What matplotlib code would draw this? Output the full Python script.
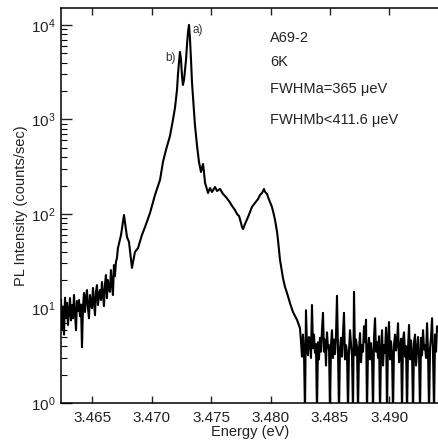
import numpy as np
import matplotlib
matplotlib.use('Agg')
import matplotlib.pyplot as plt
from matplotlib.ticker import LogLocator, NullFormatter, FormatStrFormatter

# ---- data ----
# low-energy noisy tail: evenly spaced samples between these energies
left_energy_range = (3.46237, 3.46716)
left_intensity = [12.3, 6.0, 10.5, 5.3, 13.0, 8.0, 11.5, 6.7, 9.5, 12.9, 7.5, 10.9,
                  7.9, 13.9, 9.0, 5.9, 12.0, 9.4, 12.3, 8.3, 11.0, 3.9, 10.5, 14.6,
                  9.2, 13.0, 15.7, 10.0, 7.9, 13.9, 11.0, 10.1, 16.5, 12.0, 8.5, 15.0,
                  17.7, 10.9, 14.0, 15.7, 12.3, 19.1, 14.0, 10.6, 18.0, 22.6, 12.9, 20.0,
                  16.0, 15.0, 25.5, 18.0, 13.9, 28.8, 22.0, 31.0, 34.2, 43.6]

# main emission region
peak_energy = [3.46742, 3.46767, 3.46792, 3.46809, 3.46834, 3.46859, 3.46885, 3.46918,
               3.46944, 3.46986, 3.47028, 3.47070, 3.47095, 3.47120, 3.47154, 3.47179,
               3.47196, 3.47213, 3.47221, 3.47230, 3.47238, 3.47247, 3.47255, 3.47263,
               3.47272, 3.47289, 3.47297, 3.47306, 3.47314, 3.47322, 3.47331, 3.47339,
               3.47348, 3.47356, 3.47364, 3.47381, 3.47398, 3.47415, 3.47423, 3.47432,
               3.47440, 3.47449, 3.47457, 3.47474, 3.47491, 3.47508, 3.47533, 3.47550,
               3.47575, 3.47600, 3.47625, 3.47651, 3.47676, 3.47701, 3.47718, 3.47735,
               3.47752, 3.47760, 3.47769, 3.47785, 3.47811, 3.47827, 3.47844, 3.47870,
               3.47895, 3.47912, 3.47929, 3.47945, 3.47954, 3.47971, 3.47979, 3.47996,
               3.48012, 3.48029, 3.48038, 3.48055, 3.48063, 3.48080, 3.48088, 3.48105,
               3.48122, 3.48139, 3.48164, 3.48189, 3.48223]
peak_intensity = [60.0, 97.5, 57.2, 50.6, 26.9, 39.6, 43.6, 60.0,
                  72.8, 102.6, 159, 229, 355, 475, 668, 988,
                  1324, 2052, 2958, 4060, 5180, 4266, 2885, 2317,
                  2620, 4266, 6137, 8430, 10000, 7280, 4266, 2495,
                  1690, 1200, 875, 537, 355, 278, 307, 338,
                  278, 213, 198, 167, 188, 171, 193, 175,
                  184, 163, 151, 137, 122, 110, 100, 95.2,
                  80.3, 72.8, 69.3, 78.3, 92.9, 105, 119, 131,
                  144, 159, 167, 184, 171, 163, 151, 134,
                  119, 97.5, 86.5, 64.6, 53.1, 32.6, 28.2, 21.0,
                  16.9, 14.6, 11.4, 9.2, 7.6]

# high-energy noisy tail: evenly spaced samples between these energies
right_energy_range = (3.48248, 3.49410)
right_intensity = [6.2, 4.5, 3.1, 5.3, 3.6, 0.8, 9.6, 4.0, 3.2, 5.0,
                   4.7, 3.0, 10.9, 3.8, 5.3, 3.4, 4.2, 0.8, 4.4, 2.9,
                   4.9, 3.5, 6.0, 9.0, 3.5, 4.7, 2.5, 5.6, 3.8, 4.1,
                   0.8, 4.1, 5.9, 3.0, 4.7, 3.3, 5.2, 13.6, 3.6, 0.8,
                   3.8, 4.9, 3.1, 5.5, 9.0, 2.9, 4.1, 3.4, 0.8, 3.6,
                   5.9, 4.2, 3.2, 0.8, 15.0, 3.2, 4.7, 3.9, 0.8, 3.6,
                   5.5, 2.7, 4.1, 3.5, 6.5, 4.4, 7.6, 0.8, 3.8, 4.9,
                   2.9, 4.3, 3.3, 0.8, 5.0, 7.9, 3.5, 4.4, 3.0, 5.1,
                   0.8, 3.6, 5.9, 2.5, 4.1, 3.4, 6.3, 0.8, 4.7, 7.2,
                   2.9, 4.5, 3.3, 0.8, 4.1, 5.3, 3.6, 4.4, 7.0, 2.7,
                   3.6, 4.8, 0.8, 4.7, 5.6, 3.1, 4.0, 0.8, 3.8, 6.7,
                   2.9, 4.6, 3.4, 0.8, 4.4, 5.3, 2.5, 3.6, 5.0, 3.2,
                   0.8, 4.9, 3.2, 5.9, 3.7, 4.1, 3.0, 7.0, 3.4, 0.8,
                   3.8, 5.0, 7.9, 3.2, 0.8, 5.3, 3.5, 6.5, 5.9]

x_ticks = [3.465, 3.470, 3.475, 3.480, 3.485, 3.490]
x_limits = (3.46237, 3.49418)
y_limits = (1.0, 15100.0)

info_lines = ["A69-2", "6K", "FWHMa=365 \u03bceV", "FWHMb<411.6 \u03bceV"]

# ---- build the full spectrum ----
left_energy = np.linspace(left_energy_range[0], left_energy_range[1], len(left_intensity))
right_energy = np.linspace(right_energy_range[0], right_energy_range[1], len(right_intensity))
energy = np.concatenate([left_energy, peak_energy, right_energy])
intensity = np.concatenate([left_intensity, peak_intensity, right_intensity])

plt.rcParams['font.family'] = ['Liberation Sans', 'DejaVu Sans']

fig = plt.figure(figsize=(4.39, 4.42), dpi=100)
ax = fig.add_axes([0.139, 0.088, 0.861, 0.894])

ax.plot(energy, intensity, color='black', linewidth=1.5)
ax.set_yscale('log')
ax.set_xlim(*x_limits)
ax.set_ylim(*y_limits)

ax.set_xticks(x_ticks)
ax.xaxis.set_major_formatter(FormatStrFormatter('%.3f'))
ax.yaxis.set_major_locator(LogLocator(base=10, numticks=10))
ax.yaxis.set_minor_locator(LogLocator(base=10, subs=np.arange(2, 10), numticks=20))
ax.yaxis.set_minor_formatter(NullFormatter())

ax.tick_params(axis='x', which='major', direction='in', length=5, width=1,
               top=True, bottom=True, labelsize=11, pad=6, colors='#222222')
ax.tick_params(axis='y', which='major', direction='in', length=8, width=1,
               left=True, right=False, labelsize=11, pad=4, colors='#222222')
ax.tick_params(axis='y', which='minor', direction='in', length=4, width=0.8,
               left=True, right=False)

for side in ['left', 'bottom', 'top']:
    ax.spines[side].set_linewidth(1.1)
ax.spines['right'].set_visible(False)

ax.set_xlabel('Energy (eV)', fontsize=10.5, labelpad=0, color='#222222')
ax.set_ylabel('PL Intensity (counts/sec)', fontsize=10.5, labelpad=2, color='#222222')

ax.text(3.47345, 8850, 'a)', fontsize=8.5, ha='left', va='center', color='#333333')
ax.text(3.47200, 4480, 'b)', fontsize=8.5, ha='right', va='center', color='#333333')

text_y = [0.924, 0.863, 0.795, 0.716]
for line, ty in zip(info_lines, text_y):
    ax.text(0.553, ty, line, transform=ax.transAxes, fontsize=10.5,
            ha='left', va='center', color='#222222')

fig.savefig('out.png', dpi=100)
